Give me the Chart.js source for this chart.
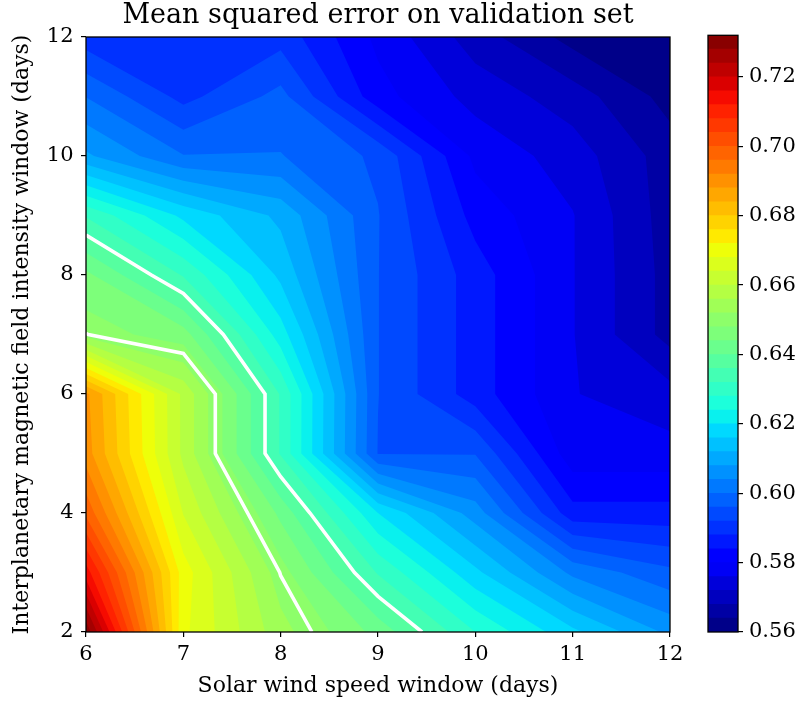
<!DOCTYPE html>
<html><head><meta charset="utf-8">
<script src="https://cdn.jsdelivr.net/npm/chart.js@4/dist/chart.umd.min.js"></script>
<style>
html,body{margin:0;padding:0;background:#fff;}
#wrap{position:relative;width:804px;height:704px;}
canvas{position:absolute;left:0;top:0;}
</style></head><body>
<div id="wrap"><canvas id="main" width="804" height="704"></canvas><canvas id="cbar" width="804" height="704"></canvas></div>
<script>
// ---- data ----
const xValues = [6, 7, 8, 9, 10, 11, 12];               // Solar wind speed window (days)
const yValues = [2, 3, 4, 5, 6, 7, 8, 9, 10, 11, 12];    // IMF intensity window (days)
// mean squared error, one row per y value, columns follow xValues
const mseY2  = [0.731, 0.669, 0.6535, 0.6426, 0.628, 0.617, 0.607];
const mseY3  = [0.714, 0.670, 0.6498, 0.6316, 0.617, 0.603, 0.597];
const mseY4  = [0.699, 0.6638, 0.6429, 0.620, 0.606, 0.5855, 0.5855];
const mseY5  = [0.690, 0.659, 0.6316, 0.5958, 0.5958, 0.5775, 0.5775];
const mseY6  = [0.689, 0.659, 0.6316, 0.5961, 0.586, 0.5762, 0.5735];
const mseY7  = [0.6501, 0.6458, 0.6219, 0.5961, 0.586, 0.5762, 0.5665];
const mseY8  = [0.645, 0.6316, 0.615, 0.5961, 0.586, 0.5762, 0.5665];
const mseY9  = [0.6316, 0.619, 0.611, 0.5962, 0.5825, 0.5762, 0.566];
const mseY10 = [0.6087, 0.6002, 0.6002, 0.5952, 0.579, 0.574, 0.566];
const mseY11 = [0.5999, 0.5907, 0.5973, 0.5815, 0.5745, 0.570, 0.5625];
const mseY12 = [0.5898, 0.589, 0.5905, 0.579, 0.570, 0.5625, 0.5605];
const contourLevels = [0.560,0.564,0.568,0.572,0.576,0.580,0.584,0.588,0.592,0.596,0.600,0.604,0.608,0.612,0.616,0.620,0.624,0.628,0.632,0.636,0.640,0.644,0.648,0.652,0.656,0.660,0.664,0.668,0.672,0.676,0.680,0.684,0.688,0.692,0.696,0.700,0.704,0.708,0.712,0.716,0.720,0.724,0.728,0.732];
const whiteLineLevels = [0.636, 0.650];
const xTicks = [6, 7, 8, 9, 10, 11, 12];
const yTicks = [2, 4, 6, 8, 10, 12];
const colorbarTicks = [0.56, 0.58, 0.60, 0.62, 0.64, 0.66, 0.68, 0.70, 0.72];

const grid = [mseY2, mseY3, mseY4, mseY5, mseY6, mseY7, mseY8, mseY9, mseY10, mseY11, mseY12];
const SERIF = "'DejaVu Serif', serif";

// ---- jet colormap ----
const JR = [[0,0],[0.35,0],[0.66,1],[0.89,1],[1,0.5]];
const JG = [[0,0],[0.125,0],[0.375,1],[0.64,1],[0.91,0],[1,0]];
const JB = [[0,0.5],[0.11,1],[0.34,1],[0.65,0],[1,0]];
function seg(t, pts){
  if (t <= pts[0][0]) return pts[0][1];
  for (let i = 1; i < pts.length; i++) {
    if (t <= pts[i][0]) { const [a,b]=pts[i-1],[c,d]=pts[i]; return b + (d-b)*(t-a)/(c-a); }
  }
  return pts[pts.length-1][1];
}
function jet(t){
  const idx = Math.min(255, Math.max(0, Math.floor(t*256)));
  const tt = idx/255;
  const c = v => Math.round(v*255);
  return `rgb(${c(seg(tt,JR))},${c(seg(tt,JG))},${c(seg(tt,JB))})`;
}
const lvMin = contourLevels[0], lvMax = contourLevels[contourLevels.length-1];
const bandColors = contourLevels.slice(0,-1).map((lo,k)=> jet(((lo+contourLevels[k+1])/2 - lvMin)/(lvMax-lvMin)));

// ---- contour lines (marching squares on the grid) ----
function contourSegments(L){
  const segs = [];
  for (let j = 0; j < yValues.length-1; j++) for (let i = 0; i < xValues.length-1; i++) {
    const x0=xValues[i], x1=xValues[i+1], y0=yValues[j], y1=yValues[j+1];
    const cs = [[x0,y0,grid[j][i]],[x1,y0,grid[j][i+1]],[x1,y1,grid[j+1][i+1]],[x0,y1,grid[j+1][i]]];
    const pts = [];
    for (let e = 0; e < 4; e++) {
      const p = cs[e], q = cs[(e+1)%4];
      if ((p[2]-L)*(q[2]-L) < 0) { const t=(L-p[2])/(q[2]-p[2]); pts.push({x:p[0]+t*(q[0]-p[0]), y:p[1]+t*(q[1]-p[1])}); }
    }
    if (pts.length === 2) segs.push([pts[0],pts[1]]);
    else if (pts.length === 4) { segs.push([pts[0],pts[1]]); segs.push([pts[2],pts[3]]); }
  }
  return segs;
}
function chainSegments(segs){
  const key = p => p.x.toFixed(6)+','+p.y.toFixed(6);
  const map = {};
  segs.forEach((s,i)=>{ s.forEach(p=>{ (map[key(p)] = map[key(p)] || []).push(i); }); });
  const used = new Array(segs.length).fill(false);
  const lines = [];
  for (let i = 0; i < segs.length; i++) {
    if (used[i]) continue;
    used[i] = true;
    const line = [segs[i][0], segs[i][1]];
    let ext = true;
    while (ext) { ext = false; const k = key(line[line.length-1]);
      for (const j of map[k]) if (!used[j]) { used[j]=true; const s=segs[j]; line.push(key(s[0])===k ? s[1] : s[0]); ext = true; break; } }
    ext = true;
    while (ext) { ext = false; const k = key(line[0]);
      for (const j of map[k]) if (!used[j]) { used[j]=true; const s=segs[j]; line.unshift(key(s[0])===k ? s[1] : s[0]); ext = true; break; } }
    lines.push(line);
  }
  return lines;
}
const lineDatasets = [];
whiteLineLevels.forEach(L => {
  chainSegments(contourSegments(L)).forEach(line => {
    lineDatasets.push({ label: 'MSE = ' + L, data: line, showLine: true, borderColor: '#ffffff', borderWidth: 3.6,
      pointRadius: 0, fill: false, tension: 0, borderJoinStyle: 'miter' });
  });
});

// ---- filled contour plugin ----
function clipCell(poly, lo){
  const out = [];
  for (let e = 0; e < poly.length; e++) {
    const p = poly[e], q = poly[(e+1)%poly.length];
    const pin = p[2] >= lo, qin = q[2] >= lo;
    if (pin) out.push(p);
    if (pin !== qin) { const t=(lo-p[2])/(q[2]-p[2]); out.push([p[0]+t*(q[0]-p[0]), p[1]+t*(q[1]-p[1]), lo]); }
  }
  return out;
}
const contourFill = {
  id: 'contourFill',
  beforeDatasetsDraw(chart){
    const {ctx, chartArea: a, scales: {x, y}} = chart;
    ctx.save();
    ctx.beginPath(); ctx.rect(a.left, a.top, a.width, a.height); ctx.clip();
    for (let k = 0; k < contourLevels.length-1; k++) {
      const lo = contourLevels[k];
      ctx.beginPath();
      for (let j = 0; j < yValues.length-1; j++) for (let i = 0; i < xValues.length-1; i++) {
        const x0=xValues[i], x1=xValues[i+1], y0=yValues[j], y1=yValues[j+1];
        const cell = [[x0,y0,grid[j][i]],[x1,y0,grid[j][i+1]],[x1,y1,grid[j+1][i+1]],[x0,y1,grid[j+1][i]]];
        const poly = clipCell(cell, lo);
        if (poly.length < 3) continue;
        poly.forEach((p,n)=>{ const px=x.getPixelForValue(p[0]), py=y.getPixelForValue(p[1]); if(n===0) ctx.moveTo(px,py); else ctx.lineTo(px,py); });
        ctx.closePath();
      }
      ctx.fillStyle = bandColors[k];
      ctx.fill();
    }
    ctx.restore();
  }
};
const frame = {
  id: 'frame',
  afterDatasetsDraw(chart){
    const {ctx, chartArea: a} = chart;
    ctx.save(); ctx.strokeStyle = '#000'; ctx.lineWidth = 1.3;
    ctx.strokeRect(a.left, a.top, a.width, a.height); ctx.restore();
  }
};

const tickFont = {family: SERIF, size: 21};
const labelFont = {family: SERIF, size: 22};

new Chart(document.getElementById('main'), {
  type: 'scatter',
  data: { datasets: lineDatasets },
  plugins: [contourFill, frame],
  options: {
    responsive: false, animation: false, devicePixelRatio: 1,
    layout: { padding: { left: 0, right: 134, top: 0, bottom: 0 } },
    plugins: {
      legend: { display: false }, tooltip: { enabled: false },
      title: { display: true, text: 'Mean squared error on validation set', fullSize: false,
        font: { family: SERIF, size: 27, weight: 'normal' }, color: '#000', padding: { top: 0, bottom: 4.6 } }
    },
    scales: {
      x: { type: 'linear', min: 6, max: 12,
        afterBuildTicks: s => { s.ticks = xTicks.map(v => ({ value: v })); },
        ticks: { font: tickFont, color: '#000', padding: 5, maxRotation: 0, autoSkip: false },
        grid: { drawOnChartArea: false, drawTicks: true, tickLength: 5, color: '#000', lineWidth: 1.2 },
        border: { display: false },
        title: { display: true, text: 'Solar wind speed window (days)', font: labelFont, color: '#000', padding: { top: 0, bottom: 4.8 } },
        afterFit: s => { s.height = 72; s.paddingLeft = 0; s.paddingRight = 0; } },
      y: { type: 'linear', min: 2, max: 12,
        afterBuildTicks: s => { s.ticks = yTicks.map(v => ({ value: v })); },
        ticks: { font: tickFont, color: '#000', padding: 7.5, autoSkip: false },
        grid: { drawOnChartArea: false, drawTicks: true, tickLength: 5, color: '#000', lineWidth: 1.2 },
        border: { display: false },
        title: { display: true, text: 'Interplanetary magnetic field intensity window (days)', font: labelFont, color: '#000', padding: { top: 9, bottom: 0 } },
        afterFit: s => { s.width = 86; s.paddingTop = 0; s.paddingBottom = 0; } }
    }
  }
});

// ---- colorbar ----
new Chart(document.getElementById('cbar'), {
  type: 'bar',
  data: { labels: ['MSE'],
    datasets: contourLevels.slice(1).map((hi, k) => ({ label: 'band ' + k, data: [[lvMin, hi]], backgroundColor: bandColors[k],
      borderWidth: 0, barPercentage: 1, categoryPercentage: 1, grouped: false })) },
  plugins: [frame],
  options: {
    responsive: false, animation: false, devicePixelRatio: 1,
    layout: { padding: { left: 708, right: 0, top: 35.3, bottom: 72 } },
    plugins: { legend: { display: false }, tooltip: { enabled: false }, title: { display: false } },
    scales: {
      x: { display: false },
      y: { position: 'right', min: lvMin, max: lvMax, beginAtZero: false,
        afterBuildTicks: s => { s.ticks = colorbarTicks.map(v => ({ value: v })); },
        ticks: { font: tickFont, color: '#000', padding: 6, autoSkip: false, callback: v => Number(v).toFixed(2) },
        grid: { drawOnChartArea: false, drawTicks: true, tickLength: 5, color: '#000', lineWidth: 1.2 },
        border: { display: false },
        afterFit: s => { s.width = 66; s.paddingTop = 0; s.paddingBottom = 0; } }
    }
  }
});
</script>
</body></html>
